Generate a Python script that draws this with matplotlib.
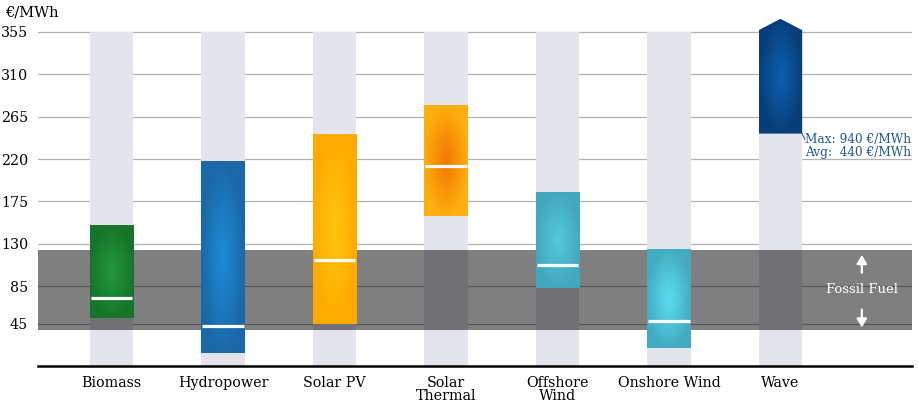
import numpy as np
import matplotlib
matplotlib.use("Agg")
import matplotlib.pyplot as plt
from matplotlib.patches import Rectangle, Polygon
from matplotlib.colors import to_rgb

# Cost ranges in €/MWh
categories = ["Biomass", "Hydropower", "Solar PV", "Solar\nThermal",
              "Offshore\nWind", "Onshore Wind", "Wave"]
cost_min = [51, 14, 45, 159, 83, 19, 247]
cost_max = [149, 218, 246, 276, 185, 124, 940]
cost_avg = [72, 43, 113, 213, 107, 48, 440]

# Colour pairs (centre, edge) for the radial fill of each bar
centre_colors = ["#23963a", "#1c8ad4", "#ffc40c", "#f27a00",
                 "#52c8da", "#5adcf0", "#0b5fae"]
edge_colors = ["#16752a", "#1a68a7", "#ffaa00", "#ffae10",
               "#44a8bd", "#44acc1", "#073e79"]

fossil_low, fossil_high = 38, 123
y_ticks = [45, 85, 130, 175, 220, 265, 310, 355]
y_tick_labels = ["45", "85", "130", "175", "220", "265", "310", "355"]
axis_cap = 357          # where the off-scale bar is cut
axis_cap_tip = 369      # tip of the arrow marking the cut

plt.rcParams["font.family"] = ["DejaVu Serif"]

fig = plt.figure(figsize=(9.18, 4.04), dpi=100)
ax = fig.add_axes([38 / 918, 38 / 404, 874 / 918, 366 / 404])

x = np.arange(len(categories))
bar_w = 0.39


def radial_fill(c0, c1, n=160):
    yy, xx = np.mgrid[-1:1:n * 1j, -1:1:n * 1j]
    r = np.clip(np.sqrt(xx ** 2 + yy ** 2), 0, 1) ** 1.1
    a = np.array(to_rgb(c0))
    b = np.array(to_rgb(c1))
    return a[None, None, :] * (1 - r[..., None]) + b[None, None, :] * r[..., None]


# horizontal grid
for t in y_ticks:
    ax.axhline(t, color="#b2b2b2", lw=0.9, zorder=0.5)

# pale background columns
for xi in x:
    ax.add_patch(Rectangle((xi - bar_w / 2, 0), bar_w, y_ticks[-1],
                           facecolor="#e4e4ec", edgecolor="none", zorder=1))

# fossil fuel band
ax.axhspan(fossil_low, fossil_high, color="black", alpha=0.5, lw=0, zorder=2)

# range bars
for i, xi in enumerate(x):
    lo, hi = cost_min[i], cost_max[i]
    img = radial_fill(centre_colors[i], edge_colors[i])
    x0, x1 = xi - bar_w / 2, xi + bar_w / 2
    if hi > axis_cap:
        im = ax.imshow(img, extent=(x0, x1, lo, axis_cap_tip), aspect="auto",
                       origin="lower", zorder=3, interpolation="bilinear")
        shape = Polygon([(x0, lo), (x1, lo), (x1, axis_cap), (xi, axis_cap_tip),
                         (x0, axis_cap)], closed=True, transform=ax.transData,
                        facecolor="none", edgecolor="none")
        ax.add_patch(shape)
        im.set_clip_path(shape)
        ax.annotate(f"Max: {hi} €/MWh\nAvg:  {cost_avg[i]} €/MWh",
                    xy=(x1, lo), xytext=(7.17, lo + 0.5),
                    ha="right", va="top", multialignment="right",
                    fontsize=8.7, color="#1f5596", linespacing=1.0,
                    arrowprops=dict(arrowstyle="-", color="#1f5596", lw=0.8,
                                    shrinkA=0, shrinkB=0,
                                    relpos=(0.0, 0.75)),
                    zorder=6)
    else:
        ax.imshow(img, extent=(x0, x1, lo, hi), aspect="auto",
                  origin="lower", zorder=3, interpolation="bilinear")
        ax.plot([x0 + 0.01, x1 - 0.01], [cost_avg[i], cost_avg[i]],
                color="white", lw=2.3, solid_capstyle="butt", zorder=4)

ax.set_xlim(-0.66, 7.18)
ax.set_ylim(0, 389)

# fossil fuel label with arrows
fx = 6.73
arrow_style = dict(arrowstyle="-|>,head_length=0.5,head_width=0.3",
                   color="white", lw=1.6, shrinkA=0, shrinkB=0)
ax.text(fx, (fossil_low + fossil_high) / 2 + 1, "Fossil Fuel", color="white",
        ha="center", va="center", fontsize=9.5, zorder=6)
ax.annotate("", xy=(fx, fossil_high - 5), xytext=(fx, fossil_high - 24),
            arrowprops=arrow_style, zorder=6)
ax.annotate("", xy=(fx, fossil_low + 3), xytext=(fx, fossil_low + 22),
            arrowprops=arrow_style, zorder=6)

# axes styling
for s in ["top", "right", "left"]:
    ax.spines[s].set_visible(False)
ax.spines["bottom"].set_linewidth(1.8)
ax.spines["bottom"].set_color("black")
ax.spines["bottom"].set_zorder(7)

ax.set_yticks(y_ticks)
ax.set_yticklabels(y_tick_labels, fontsize=10.3)
ax.tick_params(axis="y", length=0, pad=7)
ax.set_xticks(x)
ax.set_xticklabels(categories, fontsize=10.3, linespacing=0.95)
ax.tick_params(axis="x", length=0, pad=7)

fig.text(5 / 918, 1 - 12 / 404, "€/MWh", fontsize=10.5, ha="left", va="center")

fig.savefig("out.png", dpi=100)
